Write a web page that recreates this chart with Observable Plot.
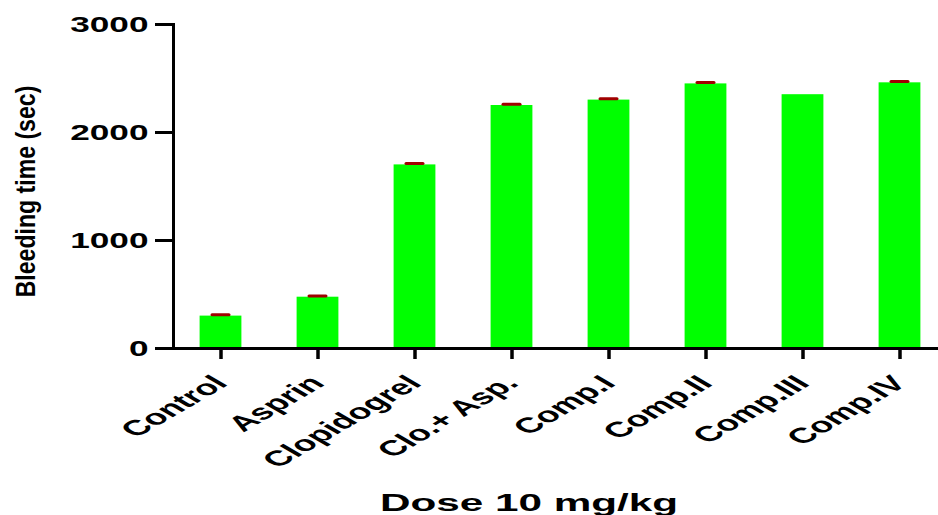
<!DOCTYPE html>
<html><head><meta charset="utf-8">
<script src="https://cdn.jsdelivr.net/npm/d3@7"></script>
<script src="https://cdn.jsdelivr.net/npm/@observablehq/plot@0.6"></script>
<style>html,body{margin:0;padding:0;background:#fff;overflow:hidden}</style>
</head><body><div id="chart"></div>
<script>
const categories = ["Control", "Asprin", "Clopidogrel", "Clo.+ Asp.", "Comp.I", "Comp.II", "Comp.III", "Comp.IV"];
const bleedingTime = [300, 475, 1700, 2250, 2300, 2450, 2350, 2460];
const errorSEM = [12, 12, 12, 12, 12, 12, 0, 12];
const yTicks = [0, 1000, 2000, 3000];
const yTitle = "Bleeding time (sec)";
const xTitle = "Dose 10 mg/kg";

const rows = categories.map((c, i) => ({cat: c, value: bleedingTime[i], err: errorSEM[i]}));
const errRows = rows.filter(d => d.err > 0);

const chart = Plot.plot({
  width: 938,
  height: 515,
  marginLeft: 173,
  marginRight: 0,
  marginTop: 24,
  marginBottom: 167,
  style: {fontFamily: "'Liberation Sans', Arial, sans-serif", fontWeight: "bold", color: "#000", background: "#fff", overflow: "visible"},
  x: {type: "band", domain: categories, range: [171.4, 948.6], padding: 0, axis: null},
  y: {domain: [0, 3000], axis: null},
  marks: [
    Plot.barY(rows, {x: "cat", y: "value", fill: "#00ff00", insetLeft: 27.6, insetRight: 27.6}),
    Plot.ruleX(errRows, {x: "cat", y1: "value", y2: d => d.value + d.err, stroke: "#a00000", strokeWidth: 2}),
    Plot.tickY(errRows, {x: "cat", y: d => d.value + d.err, stroke: "#a00000", strokeWidth: 3, strokeLinecap: "round", insetLeft: 40, insetRight: 40}),
    Plot.axisY(yTicks, {tickSize: 18, tickPadding: 7, fontSize: 22, strokeWidth: 3, tickFormat: d => String(d), label: null}),
    Plot.axisX(categories, {tickSize: 11, strokeWidth: 3.5, tickFormat: () => "", label: null}),
    Plot.ruleY([0], {strokeWidth: 3}),
    Plot.frame({anchor: "left", strokeWidth: 3}),
    Plot.text(categories, {x: d => d, text: d => d, frameAnchor: "bottom", dx: 8, dy: 36, textAnchor: "end", lineAnchor: "bottom", fontSize: 21.5, fontWeight: "bold"}),
    Plot.text([yTitle], {text: d => d, frameAnchor: "left", dx: -147, dy: 5, rotate: -90, textAnchor: "middle", lineAnchor: "middle", fontSize: 27.5, fontWeight: "bold"}),
    Plot.text([xTitle], {text: d => d, frameAnchor: "bottom", dx: -27, dy: 155, textAnchor: "middle", lineAnchor: "middle", fontSize: 24, fontWeight: "bold"})
  ]
});
document.getElementById("chart").appendChild(chart);

function reform(el, suffix) {
  let e = 0, f = 0;
  const tl = el.transform.baseVal;
  if (tl.numberOfItems) { const m = tl.consolidate().matrix; e = m.e; f = m.f; }
  else {
    const xa = el.getAttribute("x"), ya = el.getAttribute("y");
    if (xa && !/em$/.test(xa)) { e = parseFloat(xa) || 0; el.removeAttribute("x"); }
    if (ya && !/em$/.test(ya)) { f = parseFloat(ya) || 0; el.removeAttribute("y"); }
  }
  el.setAttribute("transform", `translate(${e},${f}) ${suffix}`);
}
const yTickStrings = new Set(yTicks.map(String));
const catSet = new Set(categories);
chart.querySelectorAll("text").forEach(el => {
  const t = el.textContent;
  if (yTickStrings.has(t)) reform(el, "scale(1.6,1)");
  else if (catSet.has(t)) reform(el, "scale(1.72,1) rotate(-45)");
  else if (t === yTitle) reform(el, "rotate(-90) scale(0.84,1)");
  else if (t === xTitle) reform(el, "scale(1.76,1)");
});
</script>
</body></html>
